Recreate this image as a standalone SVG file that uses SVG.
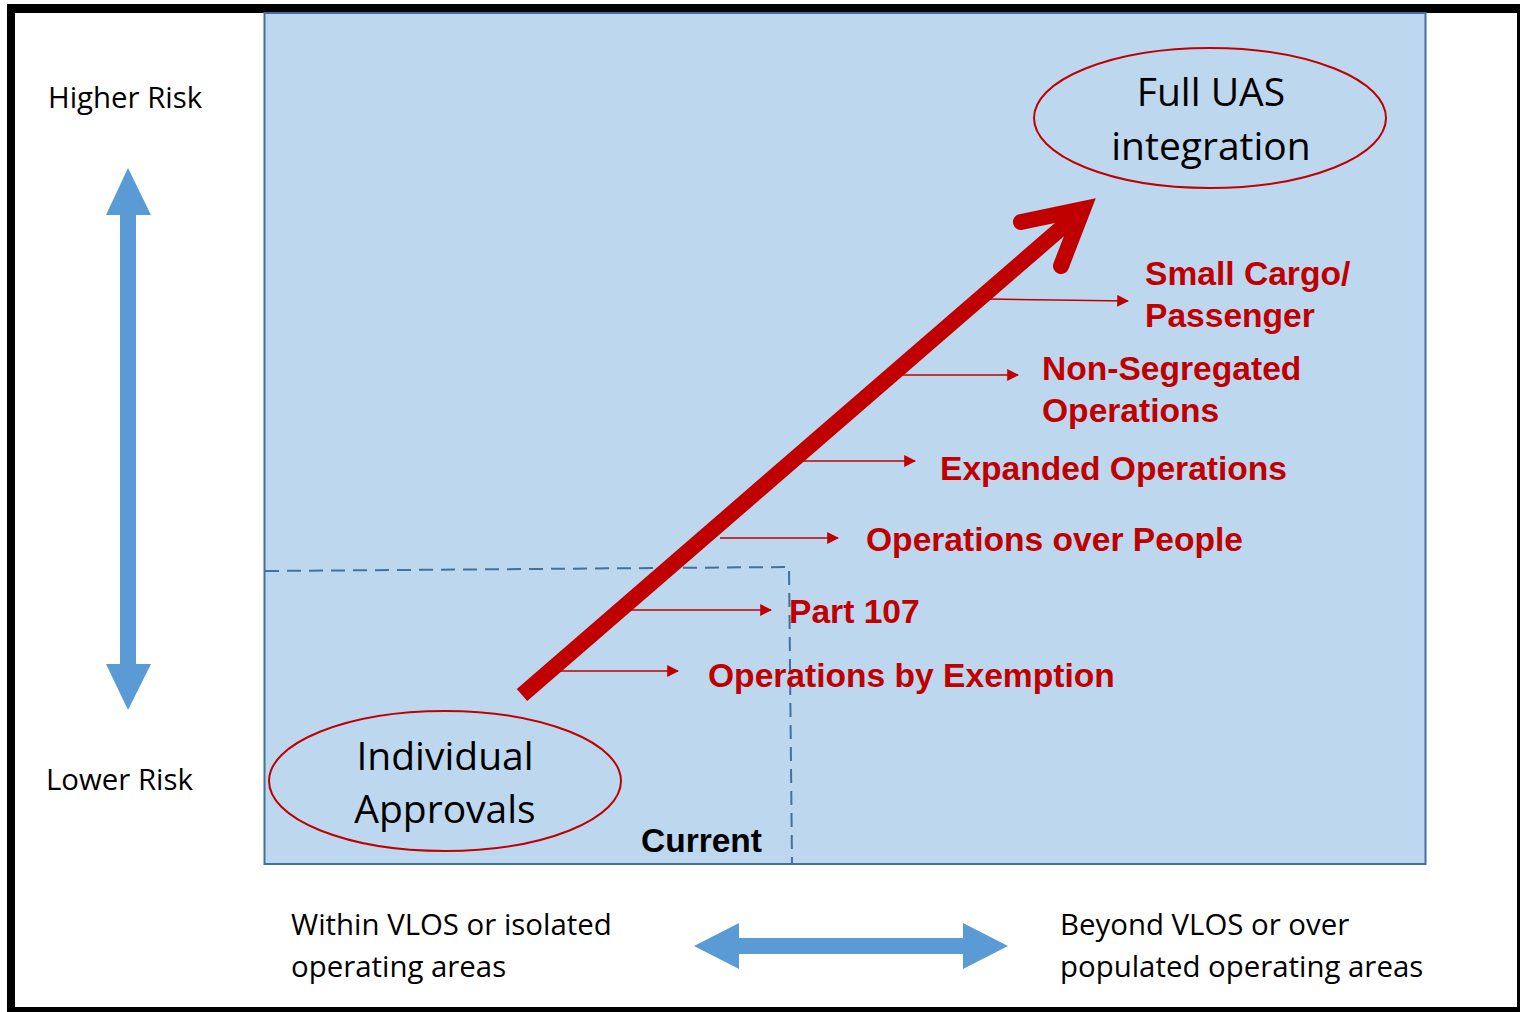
<svg xmlns="http://www.w3.org/2000/svg" width="1520" height="1012" viewBox="0 0 1520 1012">
<defs>
<style>
.lbl{font-family:"Liberation Sans",Arial,sans-serif;font-weight:bold;font-size:33.6px;fill:#C00000}
.blk{font-family:"Open Sans","Noto Sans",sans-serif;font-size:29.4px;fill:#000}
.big{font-family:"Open Sans","Noto Sans",sans-serif;font-size:39px;fill:#000}
.ell{fill:none;stroke:#C00000;stroke-width:2}
.sm{stroke:#C00000;stroke-width:1.5;fill:none;marker-end:url(#tri)}
.blue{fill:#5B9BD5}
</style>
<marker id="tri" viewBox="0 0 10 10" refX="9" refY="5" markerWidth="12" markerHeight="12" markerUnits="userSpaceOnUse" orient="auto">
<path d="M0,0 L10,5 L0,10 Z" fill="#C00000"/>
</marker>
</defs>
<rect x="0" y="0" width="1520" height="1012" fill="#fff"/>
<g id="frame">
<rect x="7" y="4" width="1513" height="1008" fill="#000"/>
<rect x="15" y="13" width="1502" height="994" fill="#fff"/>
</g>
<g id="chart">
<rect x="264.5" y="13" width="1161" height="851" fill="#BDD7EE" stroke="#41719C" stroke-width="2"/>
</g>
<g id="current-zone">
<path d="M265,571 L789,567 L792,864" fill="none" stroke="#41719C" stroke-width="2" stroke-dasharray="14,8"/>
<text x="641" y="852" font-family="Liberation Sans,Arial,sans-serif" font-weight="bold" font-size="33.5" fill="#000">Current</text>
</g>
<g id="connectors">
<line class="sm" x1="560" y1="671" x2="678" y2="671"/>
<line class="sm" x1="630" y1="610" x2="771" y2="610"/>
<line class="sm" x1="720" y1="538" x2="838" y2="538"/>
<line class="sm" x1="800" y1="461" x2="915" y2="461"/>
<line class="sm" x1="900" y1="375" x2="1018" y2="375"/>
<line class="sm" x1="990" y1="299" x2="1128" y2="301"/>
<line x1="522" y1="695" x2="1074" y2="217" stroke="#C00000" stroke-width="16"/>
<path d="M1021,222 L1083,209 L1061,266" fill="none" stroke="#C00000" stroke-width="16" stroke-linecap="round" stroke-linejoin="miter" stroke-miterlimit="10"/>
</g>
<g id="node-full">
<ellipse class="ell" cx="1210" cy="118" rx="176" ry="70"/>
<text class="big" x="1211" y="106" text-anchor="middle">Full UAS</text>
<text class="big" x="1211" y="160" text-anchor="middle">integration</text>
</g>
<g id="node-individual">
<ellipse class="ell" cx="445" cy="781" rx="176" ry="70"/>
<text class="big" x="445" y="770" text-anchor="middle">Individual</text>
<text class="big" x="445" y="823" text-anchor="middle">Approvals</text>
</g>
<g id="labels">
<text class="lbl" x="1145" y="285">Small Cargo/</text>
<text class="lbl" x="1145" y="327">Passenger</text>
<text class="lbl" x="1042" y="380">Non-Segregated</text>
<text class="lbl" x="1042" y="422">Operations</text>
<text class="lbl" x="940" y="480">Expanded Operations</text>
<text class="lbl" x="866" y="551">Operations over People</text>
<text class="lbl" x="789" y="623">Part 107</text>
<text class="lbl" x="708" y="687">Operations by Exemption</text>
</g>
<g id="risk-axis">
<path class="blue" d="M128,168 L151,215 L136,215 L136,664 L151,664 L128,710 L106,664 L120,664 L120,215 L106,215 Z"/>
<text class="blk" x="48" y="108">Higher Risk</text>
<text class="blk" x="46" y="790">Lower Risk</text>
</g>
<g id="ops-axis">
<path class="blue" d="M694,946 L739,923 L739,938 L963,938 L963,923 L1008,946 L963,969 L963,954 L739,954 L739,969 Z"/>
<text class="blk" x="291" y="935">Within VLOS or isolated</text>
<text class="blk" x="291" y="977">operating areas</text>
<text class="blk" x="1060" y="935">Beyond VLOS or over</text>
<text class="blk" x="1060" y="977">populated operating areas</text>
</g>
</svg>
